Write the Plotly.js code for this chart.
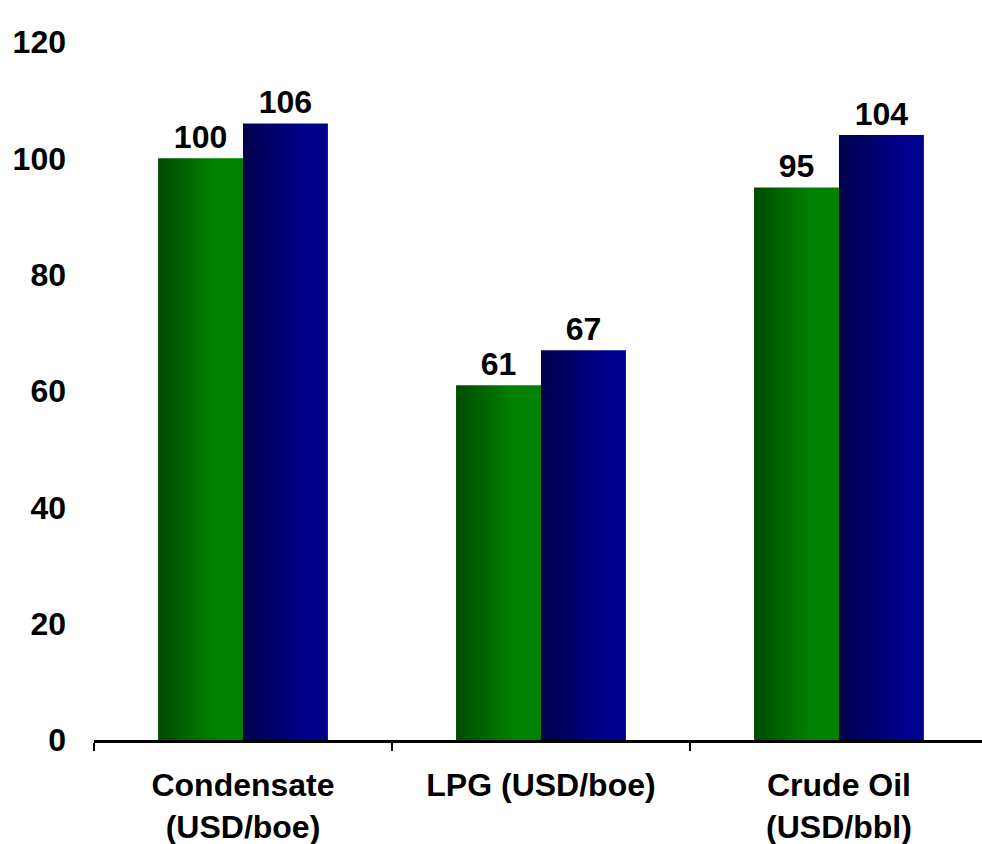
<!DOCTYPE html>
<html>
<head>
<meta charset="utf-8">
<script src="https://cdn.plot.ly/plotly-3.0.1.min.js"></script>
<style>
  html, body { margin: 0; padding: 0; background: #ffffff; }
  #chart { width: 982px; height: 844px; }
</style>
</head>
<body>
<div id="chart"></div>
<script>
// Product prices by category, two periods
const categories = ["Condensate<br>(USD/boe)", "LPG (USD/boe)", "Crude Oil<br>(USD/bbl)"];
const seriesA = [100, 61, 95];   // green bars
const seriesB = [106, 67, 104];  // blue bars
const yTicks = [0, 20, 40, 60, 80, 100, 120];

const FONT = "Liberation Sans, Arial, Helvetica, sans-serif";
const SIZE = 32;

const labelFont = { family: FONT, size: SIZE, color: "#000000", weight: "bold" };

const traces = [
  {
    type: "bar", x: categories, y: seriesA, name: "A",
    marker: { color: "#007a00", line: { width: 0 } },
    texttemplate: "%{y}", textposition: "outside", cliponaxis: false,
    textfont: labelFont
  },
  {
    type: "bar", x: categories, y: seriesB, name: "B",
    marker: { color: "#000088", line: { width: 0 } },
    texttemplate: "%{y}", textposition: "outside", cliponaxis: false,
    textfont: labelFont
  }
];

const layout = {
  width: 982, height: 844,
  margin: { l: 94, r: 0, t: 42, b: 104 },
  paper_bgcolor: "#ffffff", plot_bgcolor: "#ffffff",
  showlegend: false,
  barmode: "group", bargap: 0.43, bargroupgap: 0,
  font: labelFont,
  xaxis: {
    type: "category",
    range: [-0.5, 2.48],
    showline: true, linecolor: "#000000", linewidth: 3,
    ticks: "outside", tickson: "boundaries", ticklen: 8, tickwidth: 2, tickcolor: "#000000",
    showgrid: false, zeroline: false,
    tickfont: labelFont,
    ticklabelstandoff: 15
  },
  yaxis: {
    range: [0, 120],
    tickvals: yTicks,
    showline: false, ticks: "", showgrid: false, zeroline: false,
    tickfont: labelFont,
    ticklabelstandoff: 27
  }
};

// Horizontal shading across each bar, dark on the left edge
function applyGradients(gd) {
  const svg = gd.querySelector("svg.main-svg");
  const ns = "http://www.w3.org/2000/svg";
  let defs = svg.querySelector("defs");
  if (!defs) { defs = document.createElementNS(ns, "defs"); svg.insertBefore(defs, svg.firstChild); }
  const grads = [
    { id: "barShadeGreen", stops: [["0%", "#004a00"], ["65%", "#008000"], ["100%", "#008000"]] },
    { id: "barShadeBlue",  stops: [["0%", "#00004a"], ["75%", "#00008e"], ["100%", "#000090"]] }
  ];
  grads.forEach(g => {
    const lg = document.createElementNS(ns, "linearGradient");
    lg.setAttribute("id", g.id);
    lg.setAttribute("x1", "0"); lg.setAttribute("y1", "0");
    lg.setAttribute("x2", "1"); lg.setAttribute("y2", "0");
    g.stops.forEach(([off, col]) => {
      const s = document.createElementNS(ns, "stop");
      s.setAttribute("offset", off);
      s.setAttribute("stop-color", col);
      lg.appendChild(s);
    });
    defs.appendChild(lg);
  });
  const traceGroups = gd.querySelectorAll(".barlayer .trace.bars");
  traceGroups.forEach((tg, i) => {
    const id = grads[i % grads.length].id;
    tg.querySelectorAll(".point path").forEach(p => { p.style.fill = "url(#" + id + ")"; });
  });
}

Plotly.newPlot("chart", traces, layout, { staticPlot: true, displayModeBar: false })
  .then(gd => applyGradients(gd));
</script>
</body>
</html>
